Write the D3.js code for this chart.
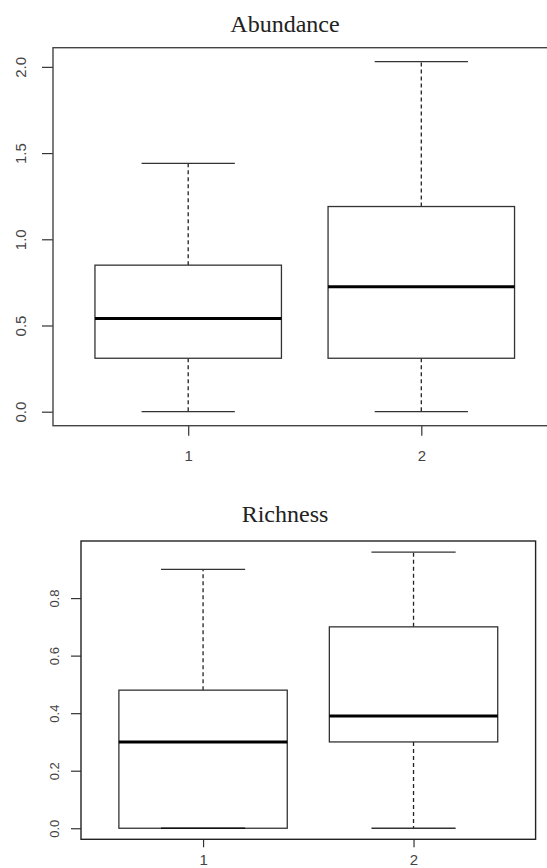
<!DOCTYPE html>
<html>
<head>
<meta charset="utf-8">
<script src="https://cdn.jsdelivr.net/npm/d3@7"></script>
<style>
  body { margin: 0; background: #fff; }
  svg { display: block; }
  .title { font-family: "Liberation Serif", "Times New Roman", serif; font-size: 24px; fill: #222; }
  .tick text { font-family: "Liberation Sans", Arial, sans-serif; fill: #444; }
</style>
</head>
<body>
<div class="chart"></div>
<script>
// groups
const groups = ['1', '2'];

// Abundance box stats
const abundanceLow = [0, 0];
const abundanceQ1 = [0.31, 0.31];
const abundanceMedian = [0.54, 0.725];
const abundanceQ3 = [0.85, 1.19];
const abundanceHigh = [1.44, 2.03];
const abundanceTicks = [0, 0.5, 1, 1.5, 2];

// Richness box stats
const richnessLow = [0, 0];
const richnessQ1 = [0, 0.30];
const richnessMedian = [0.30, 0.39];
const richnessQ3 = [0.48, 0.70];
const richnessHigh = [0.90, 0.96];
const richnessTicks = [0, 0.2, 0.4, 0.6, 0.8];

const svg = d3.select('.chart')
    .append('svg')
    .attr('width', 547)
    .attr('height', 868);

const drawPanel = (cfg) => {
    const rows = groups.map((g, i) => ({
        at: i + 1,
        low: cfg.low[i], q1: cfg.q1[i], med: cfg.median[i], q3: cfg.q3[i], high: cfg.high[i]
    }));

    // scales, R style: xlim = [0.5, 2.5] and ylim padded 4%
    const xScale = d3.scaleLinear()
        .domain([0.42, 2.58])
        .range([cfg.left, cfg.right]);

    const yMin = d3.min(rows, d => d.low);
    const yMax = d3.max(rows, d => d.high);
    const pad = (yMax - yMin) * 0.04;
    const yScale = d3.scaleLinear()
        .domain([yMin - pad, yMax + pad])
        .range([cfg.bottom, cfg.top]);

    const g = svg.append('g');

    // title
    g.append('text')
        .attr('class', 'title')
        .attr('x', cfg.titleX)
        .attr('y', cfg.titleY)
        .attr('text-anchor', 'middle')
        .text(cfg.title);

    // y axis
    const yAxis = d3.axisLeft(yScale)
        .tickValues(cfg.ticks)
        .tickFormat(d3.format('.1f'))
        .tickSize(cfg.yTick)
        .tickSizeOuter(0);

    const yAxisDraw = g.append('g')
        .attr('transform', `translate(${cfg.left}, 0)`)
        .call(yAxis);
    yAxisDraw.select('.domain').remove();
    yAxisDraw.selectAll('.tick line').attr('stroke', cfg.axisColor).attr('stroke-width', 1.2);
    yAxisDraw.selectAll('.tick text')
        .attr('x', 0)
        .attr('dy', 0)
        .attr('text-anchor', 'middle')
        .attr('transform', `translate(${-cfg.yLabelOffset}, 0) rotate(-90)`)
        .style('font-size', cfg.yFont + 'px');

    // x axis
    const xAxis = d3.axisBottom(xScale)
        .tickValues(rows.map(d => d.at))
        .tickFormat((d, i) => groups[i])
        .tickSize(cfg.xTick)
        .tickPadding(cfg.xPad)
        .tickSizeOuter(0);

    const xAxisDraw = g.append('g')
        .attr('transform', `translate(0, ${cfg.bottom})`)
        .call(xAxis);
    xAxisDraw.select('.domain').remove();
    xAxisDraw.selectAll('.tick line').attr('stroke', cfg.axisColor).attr('stroke-width', 1.2);
    xAxisDraw.selectAll('.tick text').style('font-size', '15px');

    // frame
    g.append('rect')
        .attr('x', cfg.left)
        .attr('y', cfg.top)
        .attr('width', cfg.right - cfg.left)
        .attr('height', cfg.bottom - cfg.top)
        .style('fill', 'none')
        .style('stroke', cfg.frameColor)
        .style('stroke-width', 1.4);

    const boxW = 0.8;
    const boxes = g.selectAll('.box')
        .data(rows)
        .enter()
        .append('g')
        .attr('class', 'box');

    // whiskers
    boxes.append('line')
        .attr('x1', d => xScale(d.at)).attr('x2', d => xScale(d.at))
        .attr('y1', d => yScale(d.q3)).attr('y2', d => yScale(d.high))
        .style('stroke', '#222').style('stroke-width', 1.3).style('stroke-dasharray', '4,3');
    boxes.append('line')
        .attr('x1', d => xScale(d.at)).attr('x2', d => xScale(d.at))
        .attr('y1', d => yScale(d.q1)).attr('y2', d => yScale(d.low))
        .style('stroke', '#222').style('stroke-width', 1.3).style('stroke-dasharray', '4,3');

    // staples
    ['high', 'low'].forEach(k => {
        boxes.append('line')
            .attr('x1', d => xScale(d.at - boxW / 4)).attr('x2', d => xScale(d.at + boxW / 4))
            .attr('y1', d => yScale(d[k])).attr('y2', d => yScale(d[k]))
            .style('stroke', '#333').style('stroke-width', 1.3);
    });

    // box
    boxes.append('rect')
        .attr('x', d => xScale(d.at - boxW / 2))
        .attr('width', d => xScale(d.at + boxW / 2) - xScale(d.at - boxW / 2))
        .attr('y', d => yScale(d.q3))
        .attr('height', d => yScale(d.q1) - yScale(d.q3))
        .style('fill', '#fff')
        .style('stroke', '#333')
        .style('stroke-width', 1.3);

    // median
    boxes.append('line')
        .attr('x1', d => xScale(d.at - boxW / 2)).attr('x2', d => xScale(d.at + boxW / 2))
        .attr('y1', d => yScale(d.med)).attr('y2', d => yScale(d.med))
        .style('stroke', '#000').style('stroke-width', 3);

    // low staple again on top (drawn over box edge when it coincides)
    boxes.filter(d => d.low === d.q1)
        .append('line')
        .attr('x1', d => xScale(d.at - boxW / 4)).attr('x2', d => xScale(d.at + boxW / 4))
        .attr('y1', d => yScale(d.low)).attr('y2', d => yScale(d.low))
        .style('stroke', '#111').style('stroke-width', 1.6);
};

drawPanel({
    title: 'Abundance', titleX: 285, titleY: 31.7,
    low: abundanceLow, q1: abundanceQ1, median: abundanceMedian, q3: abundanceQ3, high: abundanceHigh,
    ticks: abundanceTicks,
    left: 53, right: 556.5, top: 47.7, bottom: 425.7,
    yTick: 11, yLabelOffset: 27.5, yFont: 15,
    xTick: 10, xPad: 15,
    axisColor: '#333', frameColor: '#444'
});

drawPanel({
    title: 'Richness', titleX: 285, titleY: 521.7,
    low: richnessLow, q1: richnessQ1, median: richnessMedian, q3: richnessQ3, high: richnessHigh,
    ticks: richnessTicks,
    left: 81, right: 535.6, top: 541, bottom: 839.3,
    yTick: 10, yLabelOffset: 22.5, yFont: 13,
    xTick: 8, xPad: 7,
    axisColor: '#333', frameColor: '#222'
});
</script>
</body>
</html>
